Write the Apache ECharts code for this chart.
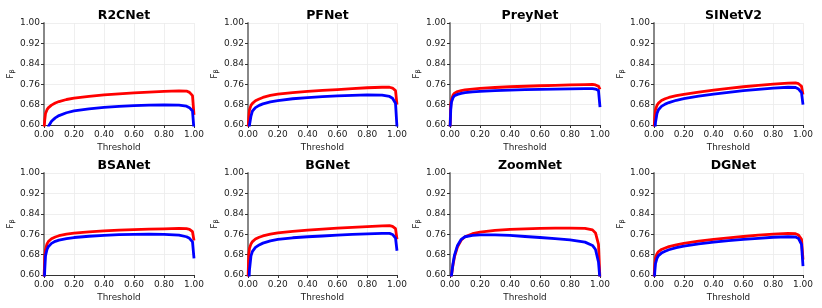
<!DOCTYPE html>
<html>
<head>
<meta charset="utf-8">
<script src="https://cdn.jsdelivr.net/npm/echarts@6/dist/echarts.min.js"></script>
<style>html,body{margin:0;padding:0;background:#fff;}#c{width:822px;height:308px;}</style>
</head>
<body>
<div id="c"></div>
<script>
const models = ["R2CNet", "PFNet", "PreyNet", "SINetV2", "BSANet", "BGNet", "ZoomNet", "DGNet"];
const thresholds = [0, 0.005, 0.01, 0.02, 0.03, 0.05, 0.075, 0.1, 0.15, 0.2, 0.3, 0.4, 0.5, 0.6, 0.7, 0.8, 0.9, 0.95, 0.97, 0.99, 1.0];
const xTicks = [0, 0.2, 0.4, 0.6, 0.8, 1.0];
const yTicks = [0.60, 0.68, 0.76, 0.84, 0.92, 1.00];

// red curves
const redR2CNet  = [0.58,0.62,0.645,0.66,0.668,0.678,0.686,0.692,0.700,0.705,0.712,0.718,0.722,0.726,0.729,0.732,0.734,0.733,0.728,0.715,0.64];
const redPFNet   = [0.58,0.63,0.66,0.677,0.685,0.695,0.702,0.708,0.716,0.721,0.727,0.732,0.736,0.739,0.743,0.746,0.748,0.748,0.745,0.735,0.68];
const redPreyNet = [0.58,0.68,0.70,0.717,0.725,0.731,0.735,0.738,0.741,0.744,0.747,0.750,0.752,0.754,0.755,0.757,0.758,0.759,0.757,0.752,0.74];
const redSINetV2 = [0.58,0.63,0.66,0.677,0.686,0.696,0.703,0.708,0.715,0.720,0.729,0.737,0.744,0.750,0.755,0.760,0.764,0.765,0.762,0.752,0.72];
const redBSANet  = [0.58,0.67,0.70,0.722,0.732,0.742,0.749,0.754,0.760,0.764,0.769,0.773,0.776,0.778,0.780,0.781,0.783,0.782,0.779,0.770,0.735];
const redBGNet   = [0.58,0.68,0.705,0.722,0.731,0.741,0.748,0.753,0.760,0.765,0.771,0.776,0.780,0.784,0.787,0.790,0.793,0.794,0.791,0.782,0.74];
const redZoomNet = [0.55,0.57,0.60,0.64,0.672,0.71,0.737,0.750,0.762,0.768,0.775,0.779,0.781,0.783,0.784,0.784,0.783,0.777,0.765,0.72,0.58];
const redDGNet   = [0.58,0.64,0.668,0.683,0.692,0.700,0.706,0.711,0.718,0.724,0.733,0.740,0.746,0.751,0.756,0.760,0.763,0.762,0.757,0.74,0.66];

// blue curves
const blueR2CNet  = [0.50,0.52,0.545,0.575,0.595,0.615,0.628,0.637,0.648,0.655,0.663,0.669,0.673,0.676,0.678,0.679,0.678,0.674,0.668,0.655,0.58];
const bluePFNet   = [0.50,0.55,0.60,0.635,0.655,0.668,0.677,0.683,0.691,0.696,0.703,0.707,0.711,0.714,0.716,0.718,0.717,0.712,0.705,0.685,0.59];
const bluePreyNet = [0.58,0.66,0.69,0.707,0.715,0.72,0.724,0.727,0.73,0.732,0.735,0.737,0.739,0.740,0.741,0.742,0.743,0.743,0.741,0.735,0.67];
const blueSINetV2 = [0.50,0.57,0.61,0.645,0.66,0.673,0.682,0.688,0.697,0.703,0.713,0.721,0.728,0.735,0.740,0.745,0.748,0.747,0.741,0.727,0.68];
const blueBSANet  = [0.55,0.62,0.675,0.70,0.712,0.724,0.732,0.737,0.743,0.747,0.752,0.755,0.758,0.759,0.760,0.759,0.756,0.750,0.744,0.73,0.665];
const blueBGNet   = [0.50,0.56,0.62,0.675,0.693,0.708,0.718,0.725,0.734,0.740,0.746,0.750,0.753,0.756,0.759,0.761,0.763,0.763,0.759,0.745,0.695];
const blueZoomNet = [0.55,0.57,0.60,0.645,0.678,0.716,0.740,0.750,0.755,0.757,0.757,0.755,0.751,0.747,0.743,0.738,0.729,0.716,0.70,0.65,0.58];
const blueDGNet   = [0.55,0.61,0.645,0.665,0.676,0.686,0.693,0.699,0.707,0.713,0.722,0.729,0.735,0.740,0.744,0.748,0.750,0.749,0.743,0.72,0.635];

const redAll  = [redR2CNet, redPFNet, redPreyNet, redSINetV2, redBSANet, redBGNet, redZoomNet, redDGNet];
const blueAll = [blueR2CNet, bluePFNet, bluePreyNet, blueSINetV2, blueBSANet, blueBGNet, blueZoomNet, blueDGNet];

const FONT = "DejaVu Sans";
const lefts = [44, 248, 450, 654];
const widths = [150, 149, 150, 149];
const tops = [23, 173];
const H = 102;

const grids = [], xAxes = [], yAxes = [], series = [], titles = [];
models.forEach((m, i) => {
  const r = Math.floor(i / 4), c = i % 4;
  grids.push({left: lefts[c], top: tops[r], width: widths[c], height: H, containLabel: false});
  titles.push({
    text: m, left: lefts[c] + widths[c] / 2, top: tops[r] - 19, textAlign: 'center',
    textStyle: {fontFamily: FONT, fontWeight: 'bold', fontSize: 12.5, color: '#000'}
  });
  xAxes.push({
    type: 'value', gridIndex: i, min: 0, max: 1, interval: 0.2,
    name: 'Threshold', nameLocation: 'middle', nameGap: 18,
    nameTextStyle: {fontFamily: FONT, fontSize: 8.8, color: '#222'},
    axisLine: {show: true, lineStyle: {color: '#333', width: 1}},
    axisTick: {show: true, length: 3, lineStyle: {color: '#333'}},
    axisLabel: {fontFamily: FONT, fontSize: 9, color: '#222', margin: 5, formatter: v => v.toFixed(2)},
    splitLine: {show: true, lineStyle: {color: '#ebebeb', width: 0.8}}
  });
  yAxes.push({
    type: 'value', gridIndex: i, min: 0.6, max: 1.0, interval: 0.08,
    name: '{a|F}{b|β}', nameLocation: 'middle', nameGap: 28, nameRotate: 90,
    nameTextStyle: {rich: {
      a: {fontFamily: FONT, fontSize: 9, color: '#222'},
      b: {fontFamily: FONT, fontSize: 6.5, color: '#222', verticalAlign: 'bottom', padding: [4, 0, 0, 0]}
    }},
    axisLine: {show: true, lineStyle: {color: '#888', width: 2}},
    axisTick: {show: true, length: 3, lineStyle: {color: '#333'}},
    axisLabel: {fontFamily: FONT, fontSize: 9, color: '#222', margin: 4, formatter: v => v.toFixed(2)},
    splitLine: {show: true, lineStyle: {color: '#ebebeb', width: 0.8}}
  });
  const mk = (vals, color) => ({
    type: 'line', xAxisIndex: i, yAxisIndex: i, showSymbol: false, symbol: 'none',
    smooth: false, clip: true, animation: false,
    lineStyle: {color: color, width: 2.8, join: 'round', cap: 'butt'},
    data: thresholds.map((t, k) => [t, vals[k]])
  });
  series.push(mk(redAll[i], '#ff0000'));
  series.push(mk(blueAll[i], '#0000ff'));
});

const chart = echarts.init(document.getElementById('c'), null, {renderer: 'canvas'});
chart.setOption({
  animation: false,
  backgroundColor: '#fff',
  title: titles, grid: grids, xAxis: xAxes, yAxis: yAxes, series: series
});
</script>
</body>
</html>
